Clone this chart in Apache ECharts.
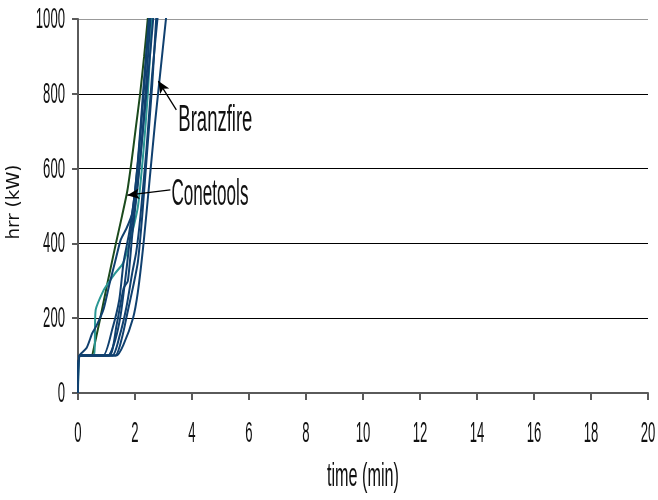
<!DOCTYPE html>
<html>
<head>
<meta charset="utf-8">
<script src="https://cdn.jsdelivr.net/npm/echarts@6/dist/echarts.min.js"></script>
<style>html,body{margin:0;padding:0;background:#fff}#c{width:658px;height:500px}</style>
</head>
<body>
<div id="c"></div>
<script>
// time (min), hrr (kW) pairs
const conetoolsGreen = [[0.5,100],[0.78,200],[1.05,300],[1.33,400],[1.55,475],[1.73,540],[1.88,620],[2.03,710],[2.18,800],[2.32,900],[2.46,1010]];
const conetoolsTeal = [[0,0],[0.08,100],[0.55,100],[0.62,222],[0.9,275],[1.09,297],[1.3,320],[1.58,347],[1.8,400],[2.1,497],[2.3,650],[2.45,800],[2.6,1010]];
const branz1 = [[0,0],[0.05,100],[1.35,100],[1.6,130],[1.93,200],[2.1,270],[2.3,400],[2.5,560],[2.7,720],[2.85,830],[3.1,1010]];
const branz2 = [[0,0],[0.05,100],[1.2,100],[1.45,150],[1.7,230],[1.9,320],[2.05,380],[2.2,480],[2.4,650],[2.6,850],[2.8,1010]];
const branz3 = [[0,0],[0.05,100],[1.1,100],[1.35,180],[1.6,280],[1.75,300],[1.9,420],[2.1,560],[2.3,720],[2.5,880],[2.65,1010]];
const branz4 = [[0,0],[0.05,100],[0.88,100],[1.2,170],[1.45,250],[1.6,350],[1.8,430],[2.0,540],[2.2,700],[2.4,900],[2.5,1010]];
const branz5 = [[0,0],[0.05,100],[0.3,120],[0.5,160],[0.65,180],[0.9,225],[1.1,290],[1.3,350],[1.5,410],[1.7,440],[1.9,480],[2.1,620],[2.3,820],[2.5,1010]];
const branz6 = [[0,0],[0.05,100],[1.05,100],[1.3,140],[1.5,210],[1.7,330],[1.85,430],[2.0,500],[2.2,640],[2.35,780],[2.55,1010]];
const branz7 = [[0,0],[0.05,100],[1.3,100],[1.55,150],[1.75,220],[1.95,290],[2.1,350],[2.25,470],[2.4,620],[2.6,820],[2.75,1010]];

const xTicks = [0,2,4,6,8,10,12,14,16,18,20];
const yTicks = [0,200,400,600,800,1000];
const xName = 'time (min)';
const yName = 'hrr (kW)';

// annotations: label text, label centre, arrow tail, arrow tip (data coords)
const annBranz = {text:'Branzfire', at:[4.82,728], tail:[3.45,757], tip:[2.82,834]};
const annCone  = {text:'Conetools', at:[4.63,530], tail:[3.24,543], tip:[1.73,529]};

const FONT = '"Liberation Sans",Arial,sans-serif';
const chart = echarts.init(document.getElementById('c'));
const blue = '#10406f';
function line(data, color, extra){
  return Object.assign({type:'line', data, symbol:'none', smooth:0.2, clip:true,
    lineStyle:{color, width:2}, itemStyle:{color}, animation:false}, extra||{});
}
function arrow(a){
  return {symbol:['none','arrow'], symbolSize:[8,12], silent:true, animation:false,
    lineStyle:{color:'#000', width:1.3, type:'solid'}, itemStyle:{color:'#000'}, label:{show:false},
    emphasis:{disabled:true},
    data:[[{coord:a.tail},{coord:a.tip}]]};
}
chart.setOption({
  animation:false,
  grid:{left:78, right:10, top:19, bottom:107, containLabel:false, outerBoundsMode:'none'},
  xAxis:{type:'value', min:0, max:20, interval:2,
    axisLine:{lineStyle:{color:'#5a5a5a', width:2}},
    axisTick:{show:true, length:7, lineStyle:{color:'#5a5a5a', width:2}},
    axisLabel:{show:false},
    splitLine:{show:false}},
  yAxis:{type:'value', min:0, max:1000, interval:200,
    axisLine:{show:true, lineStyle:{color:'#5a5a5a', width:2}},
    axisTick:{show:true, length:6, lineStyle:{color:'#5a5a5a', width:2}},
    axisLabel:{show:false},
    splitLine:{show:true, lineStyle:{color:['#000','#000','#000','#000','#000','#999'], width:1}}},
  series:[
    line(conetoolsGreen,'#1b4a1d'),
    line(conetoolsTeal,'#2a9794'),
    line(branz1,blue,{markLine:arrow(annBranz)}),
    line(branz2,blue),
    line(branz3,blue),
    line(branz4,blue),
    line(branz5,blue,{markLine:arrow(annCone)}),
    line(branz6,blue),
    line(branz7,blue)
  ]
});

// condensed text: scale horizontally so the string has the wanted width
const mctx = document.createElement('canvas').getContext('2d');
function fit(text, size, family, width){
  mctx.font = size + 'px ' + family;
  return width / mctx.measureText(text).width;
}
function txt(text, x, y, size, sx, align, extra){
  return Object.assign({type:'text', x, y, scaleX:sx, scaleY:1, silent:true,
    style:{text, fontFamily:FONT, fontSize:size, fill:'#111', align, verticalAlign:'middle'}}, extra||{});
}
function addLabels(){
  const els = [];
  const grid = chart.getModel().getComponent('grid').coordinateSystem.getRect();
  const axisY = grid.y + grid.height, axisX = grid.x;
  xTicks.forEach(v=>{
    const p = chart.convertToPixel({gridIndex:0}, [v,0]);
    const s = String(v);
    els.push(txt(s, p[0], axisY + 41, 29, fit(s,29,FONT,7.3*s.length), 'center'));
  });
  yTicks.forEach(v=>{
    const p = chart.convertToPixel({gridIndex:0}, [0,v]);
    const s = String(v);
    els.push(txt(s, axisX - 13, p[1] + 1, 29, fit(s,29,FONT,7.3*s.length), 'right'));
  });
  els.push(txt(xName, grid.x + grid.width/2, axisY + 84, 33, fit(xName,33,FONT,72), 'center'));
  els.push(Object.assign(txt(yName, 15, grid.y + grid.height/2 - 4, 17, fit(yName,17,'"DejaVu Sans"',75), 'center'),
    {rotation:Math.PI/2, style:{text:yName, fontFamily:'"DejaVu Sans",sans-serif', fontSize:17, fill:'#111', align:'center', verticalAlign:'middle'}}));
  [[annBranz,74],[annCone,77]].forEach(([a,w])=>{
    const p = chart.convertToPixel({gridIndex:0}, a.at);
    els.push(txt(a.text, p[0], p[1], 36, fit(a.text,36,FONT,w), 'center'));
  });
  chart.setOption({graphic:els});
}
addLabels();
</script>
</body>
</html>
